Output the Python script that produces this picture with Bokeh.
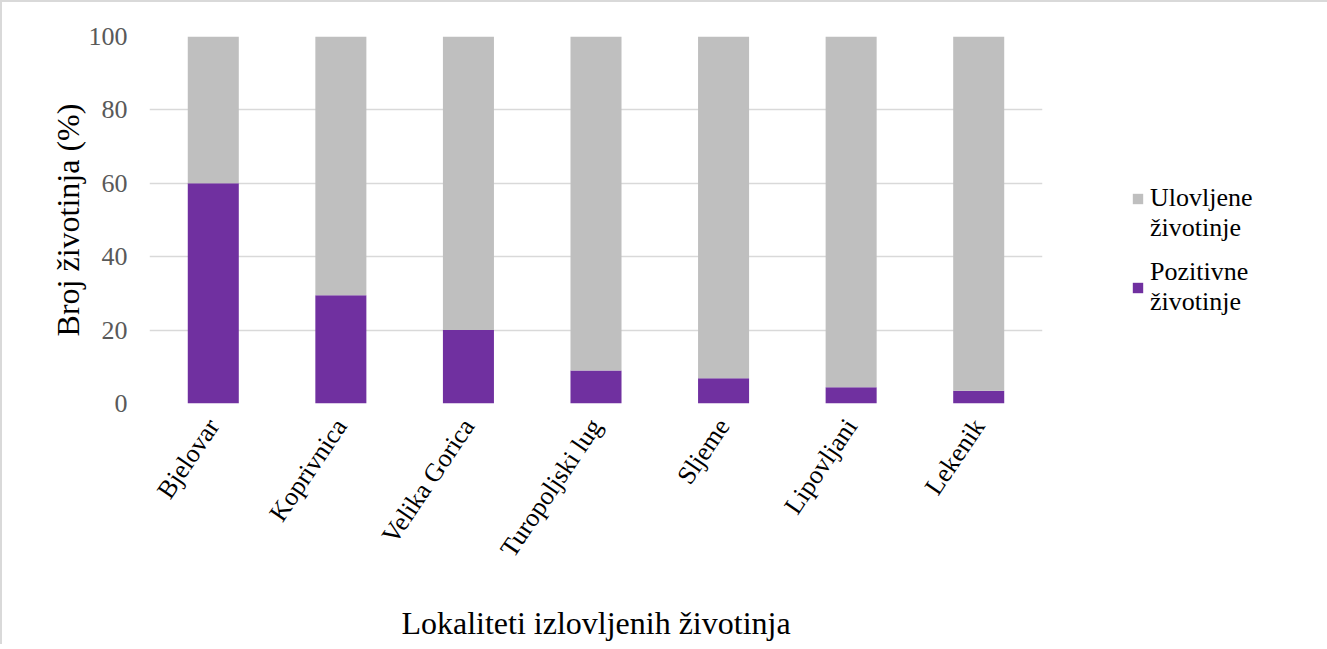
from bokeh.plotting import figure
from bokeh.models import ColumnDataSource, Legend, LegendItem, FactorRange, FixedTicker, Range1d
from bokeh.embed import file_html
from bokeh.resources import INLINE

locations = ["Bjelovar", "Koprivnica", "Velika Gorica", "Turopoljski lug", "Sljeme", "Lipovljani", "Lekenik"]
pozitivne = [60.0, 29.5, 20.0, 9.0, 6.9, 4.4, 3.5]
ukupno = [100, 100, 100, 100, 100, 100, 100]
ulovljene = [u - p for u, p in zip(ukupno, pozitivne)]
y_ticks = [0, 20, 40, 60, 80, 100]
legend_labels = ["Ulovljene\nživotinje", "Pozitivne\nživotinje"]

FONT = "'Liberation Serif', 'Times New Roman', serif"
PURPLE = "#7030A0"
GRAY = "#BFBFBF"
GRID = "#D9D9D9"

source = ColumnDataSource(data=dict(x=locations, pozitivne=pozitivne, ulovljene=ulovljene))

p = figure(
    x_range=FactorRange(*locations, range_padding=0),
    y_range=Range1d(0, 100),
    frame_width=893, frame_height=367,
    min_border_left=147, min_border_right=269, min_border_top=34, min_border_bottom=238,
    output_backend="svg", toolbar_location=None,
)
p.styles = {"border-left": "2px solid #D9D9D9", "border-top": "2px solid #D9D9D9"}

rs = p.vbar_stack(["pozitivne", "ulovljene"], x="x", width=0.4, source=source,
                  color=[PURPLE, GRAY], line_color=None)

p.outline_line_color = None
p.xgrid.grid_line_color = None
p.ygrid.grid_line_color = GRID
p.ygrid.grid_line_width = 1.5

p.yaxis.ticker = FixedTicker(ticks=y_ticks)
p.yaxis.axis_line_color = None
p.yaxis.major_tick_line_color = None
p.yaxis.minor_tick_line_color = None
p.yaxis.major_label_text_font = FONT
p.yaxis.major_label_text_font_size = "26px"
p.yaxis.major_label_text_color = "#595959"
p.yaxis.major_label_standoff = 16
p.yaxis.axis_label = "Broj životinja (%)"
p.yaxis.axis_label_text_font = FONT
p.yaxis.axis_label_text_font_size = "32px"
p.yaxis.axis_label_text_font_style = "normal"
p.yaxis.axis_label_text_color = "black"
p.yaxis.axis_label_standoff = 0

p.xaxis.axis_line_color = None
p.xaxis.major_tick_line_color = None
p.xaxis.minor_tick_line_color = None
p.xaxis.major_label_orientation = 0.977
p.xaxis.major_label_text_font = FONT
p.xaxis.major_label_text_font_size = "26px"
p.xaxis.major_label_text_color = "black"
p.xaxis.major_label_standoff = 12
p.xaxis.axis_label = "Lokaliteti izlovljenih životinja"
p.xaxis.axis_label_text_font = FONT
p.xaxis.axis_label_text_font_size = "32px"
p.xaxis.axis_label_text_font_style = "normal"
p.xaxis.axis_label_text_color = "black"
p.xaxis.axis_label_standoff = 32

legend = Legend(
    items=[LegendItem(label="\u200b\n" + legend_labels[0], renderers=[rs[1]]),
           LegendItem(label=legend_labels[1], renderers=[rs[0]])],
    location=(89, 86),
    label_text_font=FONT, label_text_font_size="26px", label_text_color="black",
    glyph_width=13, glyph_height=13, spacing=14, padding=0, margin=0,
    border_line_color=None, background_fill_alpha=0, label_standoff=6,
)
p.add_layout(legend, "right")

open("out.html", "w").write(file_html(p, INLINE))
